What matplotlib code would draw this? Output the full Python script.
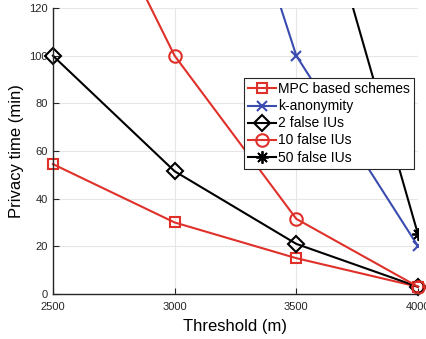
import matplotlib.pyplot as plt

plt.rcParams['font.family'] = ['Liberation Sans', 'DejaVu Sans']

threshold = [2500, 3000, 3500, 4000]
mpc = [54.5, 30, 15, 3]
k_anon = [260, 258, 100, 20]
false2 = [100, 51.5, 21, 3]
false10 = [203, 100, 31.5, 3]
false50 = [420, 310, 203, 25]

red = '#e0302a'
blue = '#3b4cb0'

fig = plt.figure(figsize=(4.27, 3.39), dpi=100)
ax = fig.add_axes([0.124, 0.133, 0.855, 0.843])

ax.plot(threshold, mpc, '-s', color=red, lw=1.5, ms=7, mfc='none', mew=1.5,
        label='MPC based schemes', clip_on=False)
ax.plot(threshold, k_anon, '-x', color=blue, lw=1.5, ms=7, mew=1.5,
        label='k-anonymity')
ax.plot(threshold, false2, '-D', color='black', lw=1.5, ms=8, mfc='none', mew=1.5,
        label='2 false IUs', clip_on=False)
ax.plot(threshold, false10, '-o', color=red, lw=1.5, ms=9, mfc='none', mew=1.5,
        label='10 false IUs', clip_on=False)
ax.plot(threshold, false50, '-', marker=(8, 2, 0), color='black', lw=1.5, ms=9,
        mew=1.3, label='50 false IUs')

ax.set_xlim(2500, 4000)
ax.set_ylim(0, 120)
ax.set_xticks(threshold)
ax.set_yticks(range(0, 121, 20))
ax.tick_params(direction='in', labelsize=8, length=4, colors='#262626')
ax.tick_params(axis='x', pad=6)
ax.grid(True, color='#e6e6e6', lw=0.8)
ax.set_axisbelow(True)
for s in ['top', 'right']:
    ax.spines[s].set_visible(False)
for s in ['left', 'bottom']:
    ax.spines[s].set_color('#262626')
    ax.spines[s].set_linewidth(1.0)

ax.set_xlabel('Threshold (m)', fontsize=12, labelpad=5)
ax.set_ylabel('Privacy time (min)', fontsize=12, labelpad=4)

leg = ax.legend(loc='upper right', bbox_to_anchor=(0.99, 0.755), fontsize=10,
                fancybox=False, framealpha=1, edgecolor='#262626',
                handlelength=2.0, handletextpad=0.2, borderpad=0.3,
                labelspacing=0.22, borderaxespad=0)
leg.get_frame().set_linewidth(0.8)

fig.savefig('out.png', dpi=100)
